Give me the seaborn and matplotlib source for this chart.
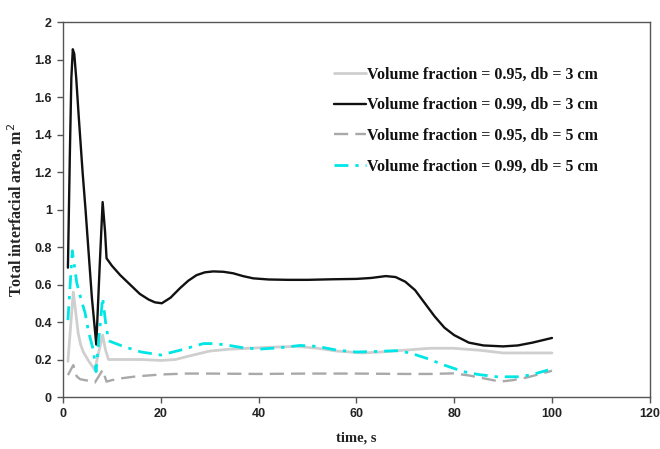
import matplotlib
matplotlib.use("Agg")
import matplotlib.pyplot as plt
from matplotlib.ticker import FuncFormatter, MultipleLocator
import seaborn as sns
import pandas as pd

# Volume fraction = 0.95, db = 3 cm
t_a = [1, 2.1, 2.6, 3.1, 3.6, 4.15, 5.3, 6.5, 7.3, 8.1, 8.7, 9.3, 12, 16, 20, 23, 26, 30,
       34, 38, 42, 47.8, 52, 56, 61.3, 65, 70, 75, 79.8, 85, 90, 95, 100]
v_a = [0.19, 0.56, 0.45, 0.34, 0.28, 0.24, 0.19, 0.145, 0.24, 0.33, 0.25, 0.20, 0.20, 0.20,
       0.195, 0.20, 0.22, 0.245, 0.255, 0.26, 0.265, 0.27, 0.26, 0.245, 0.235, 0.24, 0.25,
       0.26, 0.26, 0.25, 0.235, 0.235, 0.235]

# Volume fraction = 0.99, db = 3 cm
t_b = [1, 1.4, 1.7, 2.0, 2.3, 2.7, 3.2, 4, 4.6, 5.9, 6.8, 7.5, 8.1, 8.6, 8.9, 10, 11.7,
       13.7, 15.7, 17.5, 18.8, 20.2, 22, 23.9, 25.6, 27.3, 29, 30.7, 32.8, 34.8, 36.8,
       38.9, 42, 46, 50, 55, 60, 63, 66, 68, 70, 72, 74, 76, 78, 80, 83, 86, 90, 93, 96, 100]
v_b = [0.69, 1.30, 1.70, 1.855, 1.83, 1.70, 1.50, 1.2, 1.0, 0.53, 0.28, 0.70, 1.04, 0.88,
       0.74, 0.70, 0.65, 0.60, 0.55, 0.52, 0.505, 0.50, 0.53, 0.58, 0.62, 0.65, 0.665, 0.67,
       0.668, 0.66, 0.645, 0.633, 0.627, 0.625, 0.625, 0.628, 0.63, 0.635, 0.645, 0.64,
       0.615, 0.57, 0.50, 0.43, 0.37, 0.33, 0.29, 0.275, 0.27, 0.275, 0.29, 0.315]

# Volume fraction = 0.95, db = 5 cm
t_c = [1, 2.1, 2.8, 3.5, 4.5, 5.5, 6.5, 7.3, 8.1, 8.9, 10, 12, 15, 20, 25, 30, 40, 50, 60,
       70, 75, 79.8, 83, 86, 89.4, 92, 95, 100]
v_c = [0.117, 0.17, 0.11, 0.095, 0.09, 0.085, 0.077, 0.11, 0.145, 0.082, 0.09, 0.10, 0.11,
       0.12, 0.125, 0.125, 0.123, 0.125, 0.125, 0.123, 0.123, 0.126, 0.115, 0.10, 0.082,
       0.09, 0.105, 0.14]

# Volume fraction = 0.99, db = 5 cm
t_d = [1, 1.9, 2.8, 3.7, 4.5, 5.2, 6.2, 6.75, 7.4, 8.1, 8.7, 9.3, 12.3, 16, 20, 24, 28.7,
       31, 34, 37, 40.4, 44, 48.5, 52, 56, 60, 64, 68.2, 71, 74.4, 78, 81.9, 85, 88.7,
       93.5, 96, 99.2]
v_d = [0.41, 0.78, 0.61, 0.52, 0.45, 0.35, 0.25, 0.135, 0.33, 0.53, 0.40, 0.30, 0.27, 0.24,
       0.224, 0.25, 0.285, 0.285, 0.275, 0.262, 0.256, 0.262, 0.275, 0.27, 0.25, 0.24,
       0.243, 0.247, 0.235, 0.206, 0.17, 0.135, 0.12, 0.108, 0.108, 0.12, 0.144]

labels = ["Volume fraction = 0.95, db = 3 cm",
          "Volume fraction = 0.99, db = 3 cm",
          "Volume fraction = 0.95, db = 5 cm",
          "Volume fraction = 0.99, db = 5 cm"]
x_ticks = [0, 20, 40, 60, 80, 100, 120]

sns.set_theme(style="white")

fig = plt.figure(figsize=(6.6, 4.49), dpi=100)
ax = fig.add_axes([0.0955, 0.1158, 0.889, 0.835])

series = [
    (t_a, v_a, dict(color="#cfcfcf", lw=2.0, ls="-")),
    (t_b, v_b, dict(color="#111111", lw=1.7, ls="-")),
    (t_c, v_c, dict(color="#a9a9a9", lw=1.7, ls=(0, (6, 3)))),
    (t_d, v_d, dict(color="#00e6e6", lw=2.0, ls=(0, (5, 2.5, 1.2, 2.5)))),
]
for (t, v, st), lab in zip(series, labels):
    df = pd.DataFrame({"time": t, "area": v})
    sns.lineplot(data=df, x="time", y="area", ax=ax, sort=False, estimator=None,
                 color=st["color"], linewidth=st["lw"], linestyle=st["ls"], label=lab)

ax.set_xlim(0, 120)
ax.set_ylim(0, 2)
ax.set_xticks(x_ticks)
ax.yaxis.set_major_locator(MultipleLocator(0.2))
ax.yaxis.set_major_formatter(FuncFormatter(lambda v, p: f"{v:g}"))

for s in ax.spines.values():
    s.set_visible(True)
    s.set_color("#555555")
    s.set_linewidth(1.0)

ax.tick_params(axis="both", which="major", direction="out", length=4, width=1,
               color="#555555", left=True, bottom=True, labelsize=9, pad=4)
for lab in ax.get_xticklabels() + ax.get_yticklabels():
    lab.set_fontfamily("Liberation Sans")
    lab.set_fontweight("bold")
    lab.set_color("#222222")

ax.set_xlabel("time, s", fontfamily="Liberation Serif", fontweight="bold",
              fontsize=10.5, color="#222222", labelpad=8)
ax.set_ylabel("Total interfacial area, m$^2$", fontfamily="Liberation Serif",
              fontweight="bold", fontsize=11.5, color="#222222", labelpad=7)

leg = ax.legend(loc="upper left", bbox_to_anchor=(0.437, 0.92), frameon=False,
                handlelength=2.0, handletextpad=0.1, labelspacing=0.92,
                prop=dict(family="Liberation Serif", weight="bold", size=11.5))
for txt in leg.get_texts():
    txt.set_color("#111111")

fig.savefig("out.png", dpi=100)
